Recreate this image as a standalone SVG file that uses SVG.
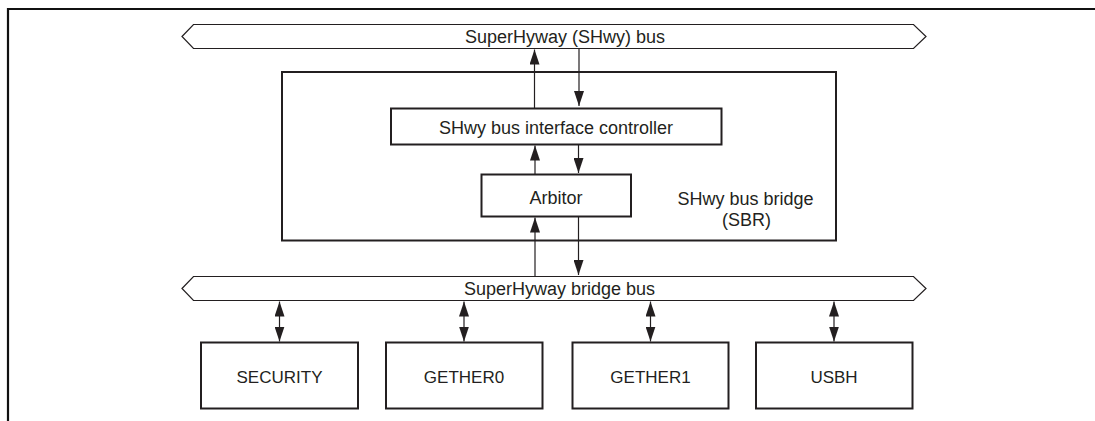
<svg xmlns="http://www.w3.org/2000/svg" width="1095" height="421" viewBox="0 0 1095 421">
<style>
.frame{fill:none;stroke:#111;stroke-width:2.2}
.box{fill:#fff;stroke:#231f20;stroke-width:2}
.bus{fill:#fff;stroke:#231f20;stroke-width:1.2}
.conn{fill:none;stroke:#231f20;stroke-width:1.2}
.t{font-family:"Liberation Sans",Arial,sans-serif;font-size:18px;fill:#231f20;text-anchor:middle}
.s{font-size:17px}
</style>
<defs>
<marker id="ah" viewBox="0 0 15 10" refX="15" refY="5" markerWidth="15" markerHeight="10" markerUnits="userSpaceOnUse" orient="auto-start-reverse">
<path d="M0,0 L15,5 L0,10 z" fill="#231f20"/>
</marker>
</defs>
<path class="frame" d="M8,421 V9 H1095"/>
<g id="shwy-bus">
<polygon class="bus" points="182,36.5 193.5,24.5 913.5,24.5 926,36.5 913.5,48.5 193.5,48.5"/>
<text class="t" x="565" y="43">SuperHyway (SHwy) bus</text>
</g>
<g id="sbr">
<rect class="box" x="282" y="72" width="554" height="168.5"/>
<text class="t" x="745.5" y="205">SHwy bus bridge</text>
<text class="t" x="746.5" y="225.5">(SBR)</text>
</g>
<g id="controller">
<rect class="box" x="391" y="108.5" width="330.5" height="36"/>
<text class="t" x="556" y="133.5">SHwy bus interface controller</text>
</g>
<g id="arbitor">
<rect class="box" x="481.5" y="174.5" width="149.5" height="42"/>
<text class="t" x="556" y="203.5">Arbitor</text>
</g>
<g id="bridge-bus">
<polygon class="bus" points="182,288.5 193.5,276.5 913.5,276.5 926,288.5 913.5,300.5 193.5,300.5"/>
<text class="t" x="559.5" y="294.5">SuperHyway bridge bus</text>
</g>
<g id="security">
<rect class="box" x="201" y="342.5" width="157" height="66"/>
<text class="t s" x="279.5" y="382.5">SECURITY</text>
</g>
<g id="gether0">
<rect class="box" x="386" y="342.5" width="156.5" height="66"/>
<text class="t s" x="464" y="382.5">GETHER0</text>
</g>
<g id="gether1">
<rect class="box" x="572.5" y="342.5" width="156" height="66"/>
<text class="t s" x="650.5" y="382.5">GETHER1</text>
</g>
<g id="usbh">
<rect class="box" x="756" y="342.5" width="156.5" height="66"/>
<text class="t s" x="834" y="382.5">USBH</text>
</g>
<g id="connectors">
<line class="conn" x1="534.5" y1="108" x2="534.5" y2="49.5" marker-end="url(#ah)"/>
<line class="conn" x1="579" y1="49" x2="579" y2="106" marker-end="url(#ah)"/>
<line class="conn" x1="535" y1="174" x2="535" y2="145.5" marker-end="url(#ah)"/>
<line class="conn" x1="578.5" y1="145" x2="578.5" y2="173" marker-end="url(#ah)"/>
<line class="conn" x1="535" y1="276.5" x2="535" y2="217.5" marker-end="url(#ah)"/>
<line class="conn" x1="578.5" y1="217" x2="578.5" y2="275" marker-end="url(#ah)"/>
<line class="conn" x1="279.5" y1="301.5" x2="279.5" y2="341.5" marker-start="url(#ah)" marker-end="url(#ah)"/>
<line class="conn" x1="464" y1="301.5" x2="464" y2="341.5" marker-start="url(#ah)" marker-end="url(#ah)"/>
<line class="conn" x1="650.5" y1="301.5" x2="650.5" y2="341.5" marker-start="url(#ah)" marker-end="url(#ah)"/>
<line class="conn" x1="834" y1="301.5" x2="834" y2="341.5" marker-start="url(#ah)" marker-end="url(#ah)"/>
</g>
</svg>
